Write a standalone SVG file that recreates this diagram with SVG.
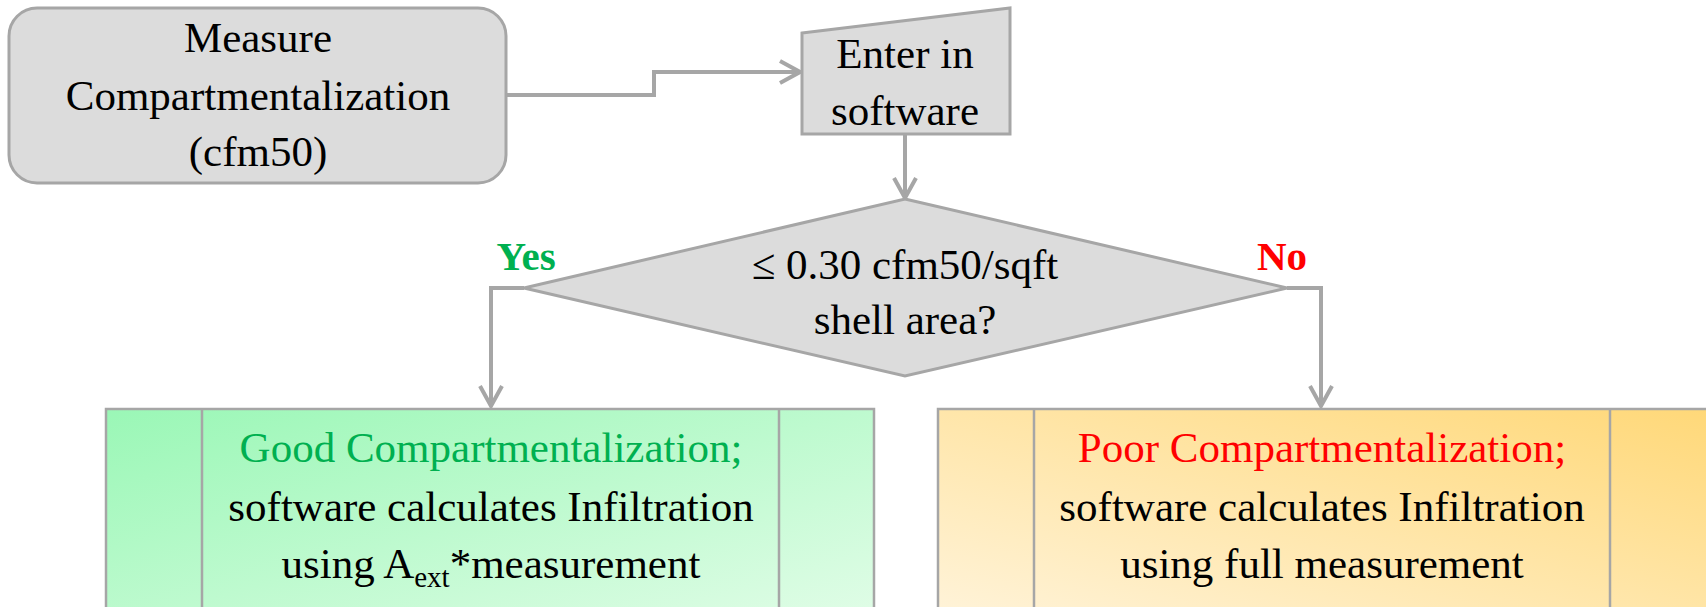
<svg xmlns="http://www.w3.org/2000/svg" width="1706" height="607" viewBox="0 0 1706 607">
<style>
.shape{fill:#dcdcdc;stroke:#a6a6a6;stroke-width:3}
.t{font-family:"Liberation Serif","DejaVu Serif",serif;font-size:43px;fill:#000;text-anchor:middle}
.conn{fill:none;stroke:#a6a6a6;stroke-width:4}
.lbl{font-family:"Liberation Serif","DejaVu Serif",serif;font-size:41px;font-weight:bold}
.div{stroke:#a6a6a6;stroke-width:2.5}
</style>
<defs>
<marker id="arr" markerUnits="userSpaceOnUse" markerWidth="26" markerHeight="28" viewBox="0 0 26 28" refX="23" refY="14" orient="auto">
<path d="M3,3 L23,14 L3,25" fill="none" stroke="#a6a6a6" stroke-width="4"/>
</marker>
<linearGradient id="gGreen" x1="0" y1="0" x2="1" y2="1">
<stop offset="0" stop-color="#9af7b6"/>
<stop offset="1" stop-color="#e2fde8"/>
</linearGradient>
<linearGradient id="gOrange" x1="0" y1="1" x2="1" y2="0">
<stop offset="0" stop-color="#fff4dc"/>
<stop offset="1" stop-color="#ffd878"/>
</linearGradient>
</defs>

<g id="connectors">
<polyline class="conn" points="506,95 654,95 654,72 800,72" marker-end="url(#arr)"/>
<polyline class="conn" points="905,134 905,198" marker-end="url(#arr)"/>
<polyline class="conn" points="524,288 491,288 491,406" marker-end="url(#arr)"/>
<polyline class="conn" points="1287,288 1321,288 1321,406" marker-end="url(#arr)"/>
</g>

<g id="measure">
<rect class="shape" x="9" y="8" width="497" height="175" rx="28" ry="28"/>
<text class="t" x="258" y="52">Measure</text>
<text class="t" x="258" y="110">Compartmentalization</text>
<text class="t" x="258" y="166">(cfm50)</text>
</g>

<g id="enter">
<polygon class="shape" points="802,33 1010,8 1010,134 802,134"/>
<text class="t" x="905" y="68">Enter in</text>
<text class="t" x="905" y="125">software</text>
</g>

<g id="decision">
<polygon class="shape" points="905,199 1287,288 905,376 524,288"/>
<text class="t" x="905" y="279">≤ 0.30 cfm50/sqft</text>
<text class="t" x="905" y="334">shell area?</text>
</g>

<g id="labels">
<text class="lbl" x="526" y="270" text-anchor="middle" fill="#00b050">Yes</text>
<text class="lbl" x="1282" y="270" text-anchor="middle" fill="#ff0000">No</text>
</g>

<g id="good">
<rect x="106" y="409" width="768" height="220" fill="url(#gGreen)" stroke="#a6a6a6" stroke-width="2.5"/>
<line class="div" x1="202" y1="409" x2="202" y2="629"/>
<line class="div" x1="779" y1="409" x2="779" y2="629"/>
<text class="t" x="491" y="462" style="fill:#00b050">Good Compartmentalization;</text>
<text class="t" x="491" y="521">software calculates Infiltration</text>
<text class="t" x="491" y="578">using A<tspan font-size="29" dy="9">ext</tspan><tspan dy="-9">*measurement</tspan></text>
</g>

<g id="poor">
<rect x="938" y="409" width="780" height="220" fill="url(#gOrange)" stroke="#a6a6a6" stroke-width="2.5"/>
<line class="div" x1="1034" y1="409" x2="1034" y2="629"/>
<line class="div" x1="1610" y1="409" x2="1610" y2="629"/>
<text class="t" x="1322" y="462" style="fill:#ff0000">Poor Compartmentalization;</text>
<text class="t" x="1322" y="521">software calculates Infiltration</text>
<text class="t" x="1322" y="578">using full measurement</text>
</g>
</svg>
